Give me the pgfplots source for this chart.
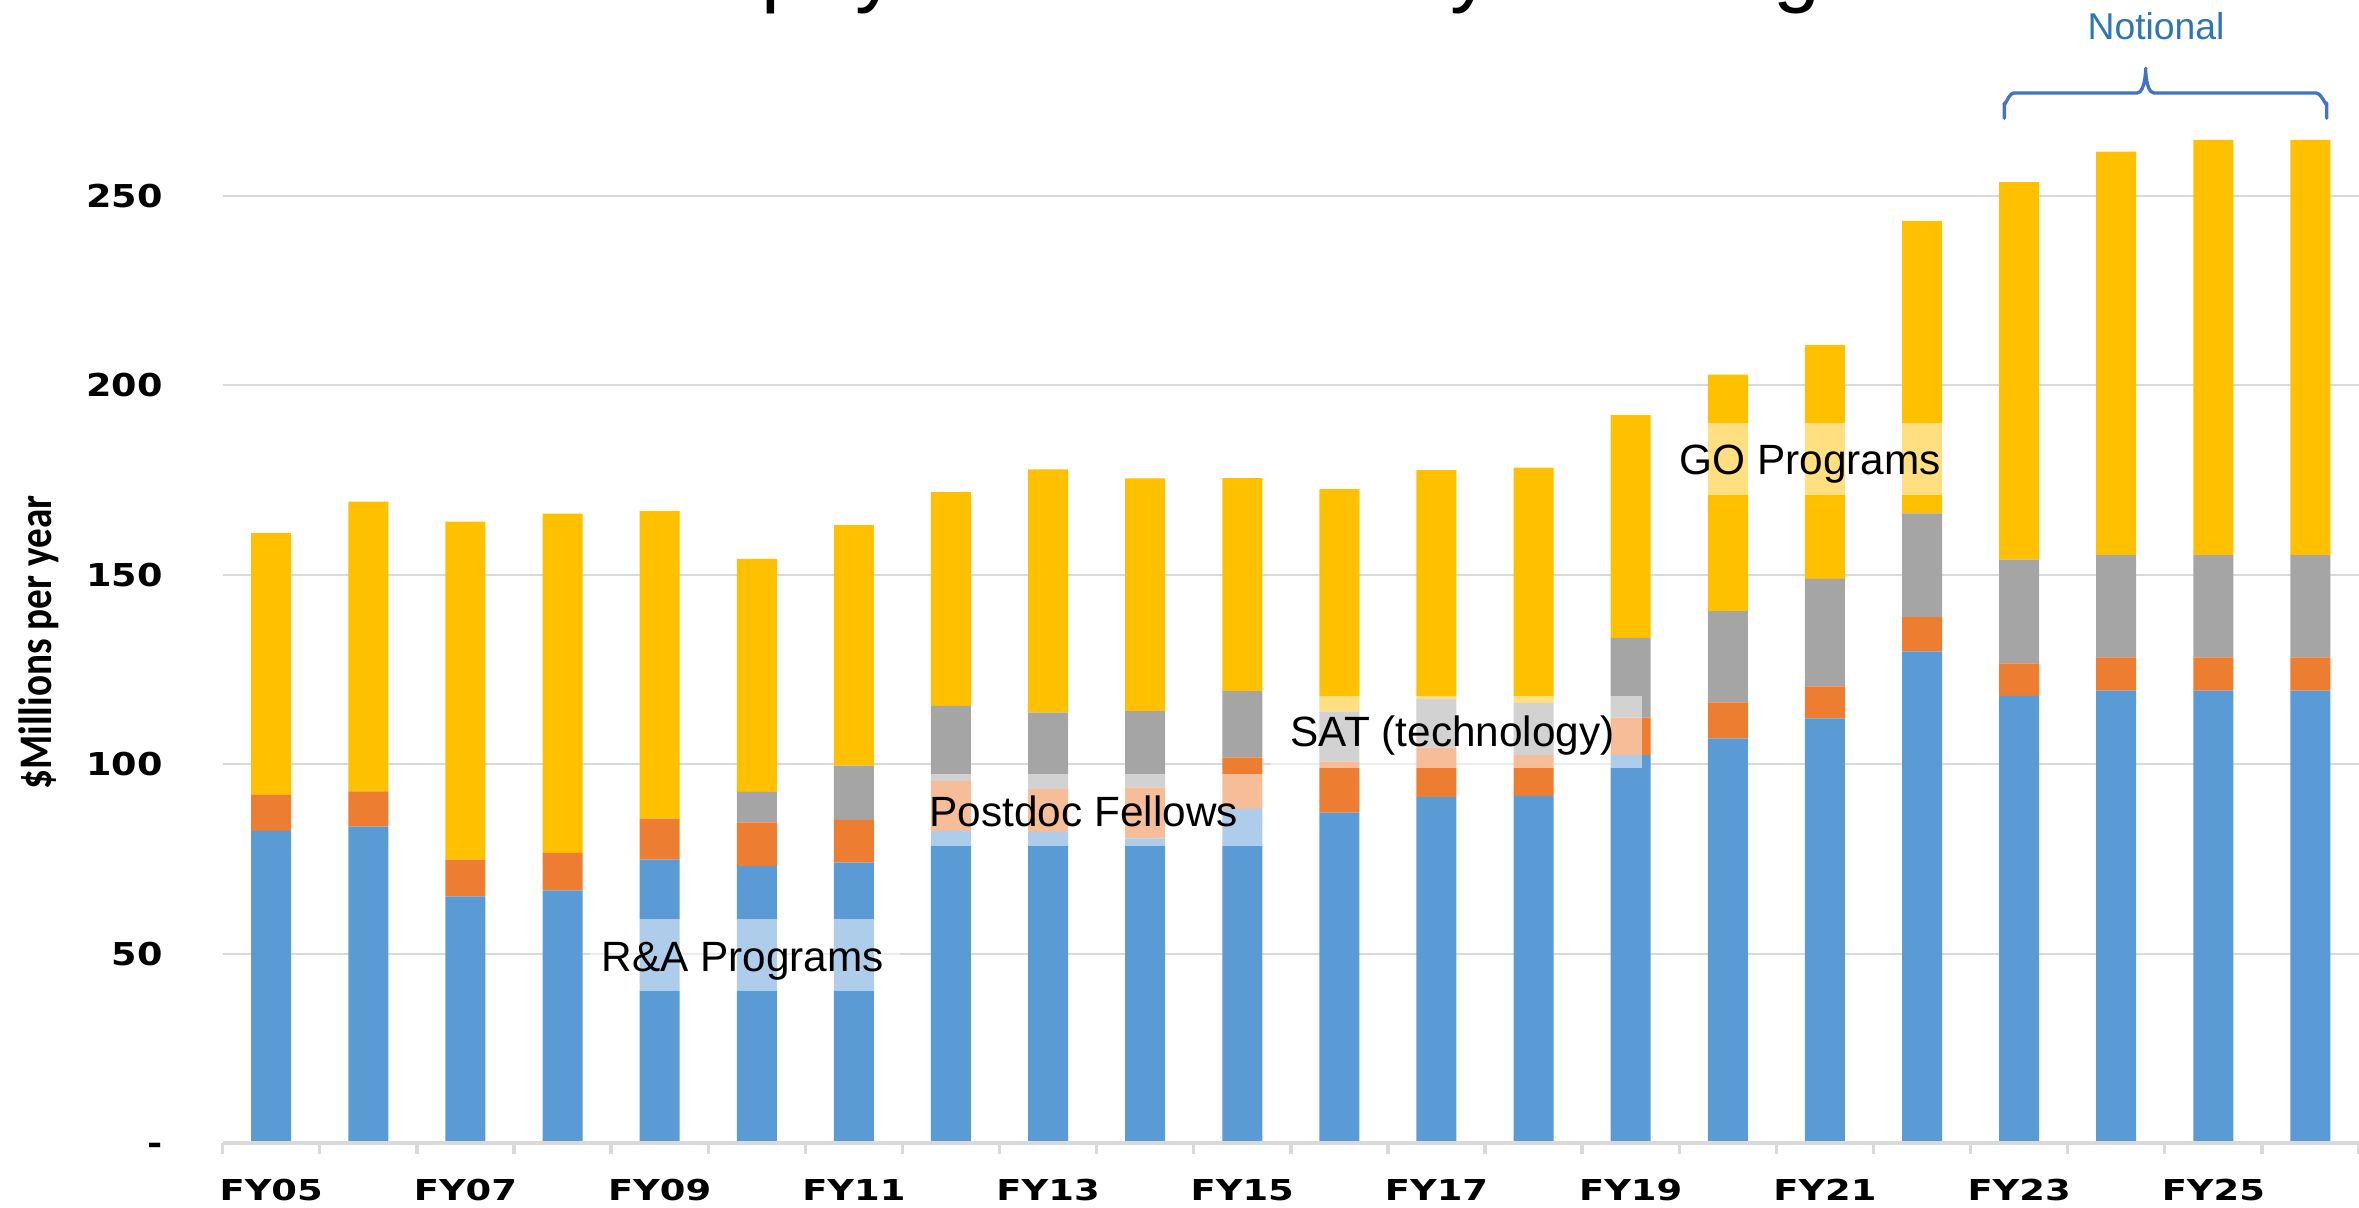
\documentclass[border=0pt]{standalone}
\usepackage{fontspec}
\usepackage{pgfplots}
\pgfplotsset{compat=1.18}
\usepackage{pgfplotstable}
\setmainfont{Liberation Sans}
\newfontfamily\yfont{DejaVu Sans}[FakeStretch=1.16]
\newfontfamily\xfont{DejaVu Sans}[FakeStretch=1.28]
\newfontfamily\lblfont{Carlito}[FakeStretch=0.84]
\definecolor{cblue}{HTML}{5B9BD5}
\definecolor{corange}{HTML}{ED7D31}
\definecolor{cgray}{HTML}{A5A5A5}
\definecolor{cyellow}{HTML}{FFC000}
\definecolor{gridgray}{HTML}{D9D9D9}
\definecolor{notblue}{HTML}{2E75B6}
\definecolor{bracketblue}{HTML}{4472C4}

% segment heights ($M): R&A, Postdoc, SAT, GO
\pgfplotstableread{
x  blue   orange gray  yellow
0  82.4   9.5    0     69.1
1  83.5   9.3    0     76.5
2  65.1   9.7    0     89.2
3  66.7   9.9    0     89.5
4  74.8   10.8   0     81.2
5  73.1   11.5   8.1   61.5
6  74.0   11.3   14.3  63.5
7  82.4   13.2   19.8  56.4
8  82.1   11.3   20.2  64.2
9  80.4   13.5   20.1  61.4
10 88.2   13.6   17.5  56.2
11 87.2   13.5   13.2  58.7
12 91.3   13.1   12.8  60.4
13 91.6   10.8   13.8  62.1
14 102.4  9.9    21.0  58.8
15 106.8  9.5    24.1  62.4
16 112.1  8.4    28.4  61.8
17 129.8  9.0    27.4  77.2
18 118.0  8.6    27.4  99.6
19 119.4  8.8    27.0  106.5
20 119.4  8.8    27.0  109.6
21 119.4  8.8    27.0  109.6
}\funding

\begin{document}
\begin{tikzpicture}
\useasboundingbox (0,0) rectangle (707.7pt,362.1pt);
\begin{axis}[
  at={(66.8pt,19.2pt)}, anchor=south west,
  scale only axis, width=640.9pt, height=329.6pt,
  ybar stacked, bar width=12pt,
  xmin=-0.5, xmax=21.5, ymin=0, ymax=290,
  axis line style={draw=none},
  tick align=outside,
  xtick pos=lower, ytick pos=left,
  major tick length=3.4pt,
  xtick={-0.5,0.5,...,21.5}, xticklabels={},
  x tick style={gridgray, line width=1pt},
  extra x ticks={0,2,...,20},
  extra x tick labels={FY05,FY07,FY09,FY11,FY13,FY15,FY17,FY19,FY21,FY23,FY25},
  extra x tick style={major tick length=0pt},
  xticklabel style={font=\xfont\bfseries\fontsize{8.64}{10}\selectfont, anchor=base, inner sep=0pt, yshift=-17.1pt},
  ytick={0,50,...,250},
  yticklabels={-\hspace{6.9pt},50,100,150,200,250},
  y tick style={draw=none},
  yticklabel style={font=\yfont\bfseries\fontsize{9.45}{11}\selectfont, anchor=base east, inner sep=0pt, xshift=-14.4pt, yshift=-3.5pt},
  ymajorgrids,
  major grid style={gridgray, line width=0.6pt},
]
\addplot[fill=cblue, draw=none] table[x=x, y=blue] {\funding};
\addplot[fill=corange, draw=none] table[x=x, y=orange] {\funding};
\addplot[fill=cgray, draw=none] table[x=x, y=gray] {\funding};
\addplot[fill=cyellow, draw=none] table[x=x, y=yellow] {\funding};
\end{axis}
\begin{scope}[shift={(0pt,362.1pt)}, x=0.3pt, y=-0.3pt]
  % x axis line
  \draw[gridgray, line width=1pt] (222.7,1143) -- (2359,1143);
  % semi-transparent label boxes
  \fill[white, fill opacity=0.5] (590,919) rectangle (900,991);
  \fill[white, fill opacity=0.5] (910,774) rectangle (1270,846);
  \fill[white, fill opacity=0.5] (1270,696) rectangle (1642,768);
  \fill[white, fill opacity=0.5] (1660,423) rectangle (1950,495);
  \node[anchor=base west, inner sep=0pt, font=\fontsize{12.7}{15}\selectfont] at (601,971.7) {R\&A Programs};
  \node[anchor=base west, inner sep=0pt, font=\fontsize{12.7}{15}\selectfont] at (929,826.7) {Postdoc Fellows};
  \node[anchor=base west, inner sep=0pt, font=\fontsize{12.7}{15}\selectfont] at (1290,746.7) {SAT (technology)};
  \node[anchor=base west, inner sep=0pt, font=\fontsize{12.7}{15}\selectfont] at (1679,474.3) {GO Programs};
  % notional bracket
  \node[anchor=base, inner sep=0pt, text=notblue, font=\fontsize{11.2}{13}\selectfont] at (2156,40) {Notional};
  \draw[bracketblue, line width=1pt, line cap=round, line join=round]
    (2004.3,118.3) -- (2004.3,103) to[out=-90,in=180] (2014,93) -- (2137,93)
    to[out=0,in=90] (2145.7,70) to[out=90,in=180] (2154,93) -- (2316,93)
    to[out=0,in=-90] (2326.7,103) -- (2326.7,118.3);
  % title (cut by the top edge, as in the reference)
  \node[anchor=base west, inner sep=0pt, font=\fontsize{25.3}{30}\selectfont] at (564,-3) {Astrophysics Community Funding};
  % y label
  \node[rotate=90, anchor=base, inner sep=0pt, font=\lblfont\bfseries\fontsize{14}{16}\selectfont] at (51.7,642.5) {\$Millions per year};
\end{scope}
\end{tikzpicture}
\end{document}
